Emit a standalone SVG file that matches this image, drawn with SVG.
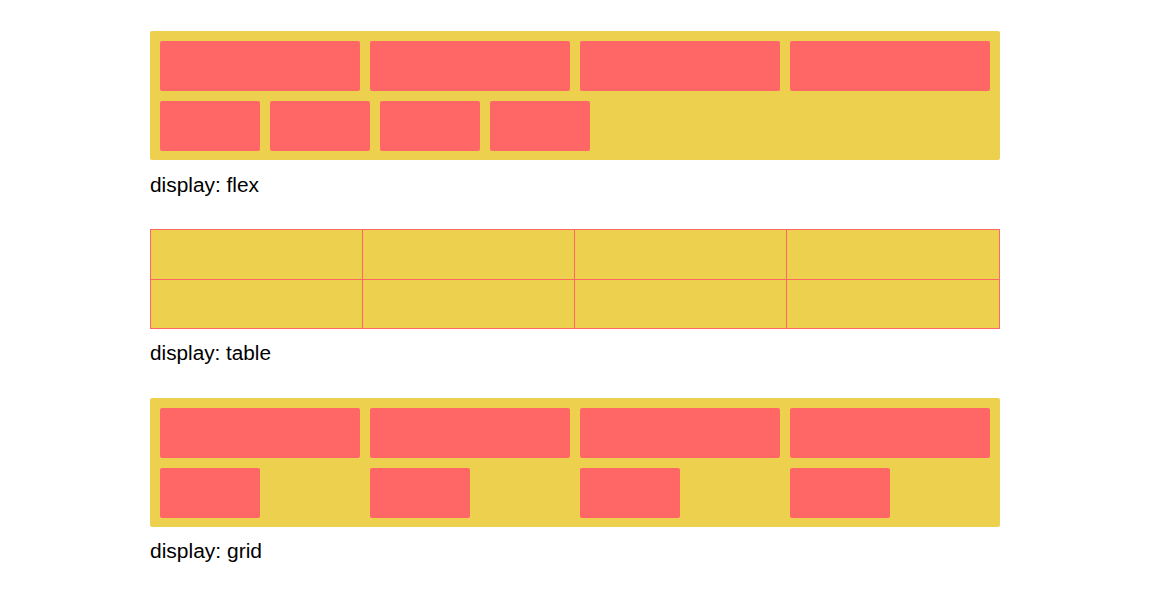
<svg xmlns="http://www.w3.org/2000/svg" width="1150" height="597" viewBox="0 0 1150 597">
<style>
.c{fill:#eed04f}
.b{fill:#ff6666}
.t{font-family:"Liberation Sans",Arial,sans-serif;font-size:20px;fill:#000}
.ln{stroke:#ff6666;stroke-width:1;fill:none}
</style>
<rect width="1150" height="597" fill="#fff"/>
<g id="flex">
<rect class="c" x="150" y="31" width="850" height="129" rx="2"/>
<rect class="b" x="160" y="41" width="200" height="50" rx="2"/>
<rect class="b" x="370" y="41" width="200" height="50" rx="2"/>
<rect class="b" x="580" y="41" width="200" height="50" rx="2"/>
<rect class="b" x="790" y="41" width="200" height="50" rx="2"/>
<rect class="b" x="160" y="101" width="100" height="50" rx="2"/>
<rect class="b" x="270" y="101" width="100" height="50" rx="2"/>
<rect class="b" x="380" y="101" width="100" height="50" rx="2"/>
<rect class="b" x="490" y="101" width="100" height="50" rx="2"/>
<text class="t" x="150" y="192" textLength="109" lengthAdjust="spacingAndGlyphs">display: flex</text>
</g>
<g id="table">
<rect class="c" x="150" y="229" width="850" height="100"/>
<rect class="ln" x="150.5" y="229.5" width="849" height="99"/>
<line class="ln" x1="150" y1="279.5" x2="1000" y2="279.5"/>
<line class="ln" x1="362.5" y1="229" x2="362.5" y2="329"/>
<line class="ln" x1="574.5" y1="229" x2="574.5" y2="329"/>
<line class="ln" x1="786.5" y1="229" x2="786.5" y2="329"/>
<text class="t" x="150" y="360" textLength="121" lengthAdjust="spacingAndGlyphs">display: table</text>
</g>
<g id="grid">
<rect class="c" x="150" y="398" width="850" height="129" rx="2"/>
<rect class="b" x="160" y="408" width="200" height="50" rx="2"/>
<rect class="b" x="370" y="408" width="200" height="50" rx="2"/>
<rect class="b" x="580" y="408" width="200" height="50" rx="2"/>
<rect class="b" x="790" y="408" width="200" height="50" rx="2"/>
<rect class="b" x="160" y="468" width="100" height="50" rx="2"/>
<rect class="b" x="370" y="468" width="100" height="50" rx="2"/>
<rect class="b" x="580" y="468" width="100" height="50" rx="2"/>
<rect class="b" x="790" y="468" width="100" height="50" rx="2"/>
<text class="t" x="150" y="558" textLength="112" lengthAdjust="spacingAndGlyphs">display: grid</text>
</g>
<g id="connectors"/>
</svg>
